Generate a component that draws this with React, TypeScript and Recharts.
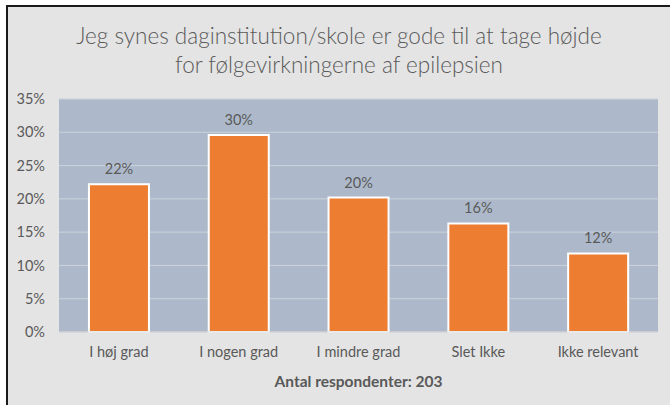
import { BarChart, Bar, XAxis, YAxis, CartesianGrid, LabelList } from "recharts";

// svarkategorier og andele (n = 203)
const categories = ["I høj grad", "I nogen grad", "I mindre grad", "Slet Ikke", "Ikke relevant"];
const shares = [0.222, 0.296, 0.202, 0.163, 0.118];
const yTicks = [0, 0.05, 0.1, 0.15, 0.2, 0.25, 0.3, 0.35];
// skillemarkeringer mellem kategorierne på x-aksen
const boundaryTicks = [0, 1, 2, 3, 4, 5];

const titleLines = [
  "Jeg synes daginstitution/skole er gode til at tage højde",
  "for følgevirkningerne af epilepsien",
];
const axisTitle = "Antal respondenter: 203";

const data = categories.map((c, i) => ({ kategori: c, andel: shares[i] }));

const pct = (v: any) => `${Math.round(Number(v) * 100)}%`;
const FONT = "Lato, 'Open Sans', sans-serif";
const TXT = "#595959";

export default function App() {
  return (
    <div style={{ position: "absolute", left: 0, top: 0, width: 670, height: 405, background: "#fff" }}>
      <div
        style={{
          position: "absolute",
          left: 6,
          top: 5,
          width: 662,
          height: 398,
          background: "#e4e4e4",
          borderTop: "2px solid #1a1a1a",
          borderLeft: "2px solid #1a1a1a",
          fontFamily: FONT,
        }}
      >
        <div
          style={{
            position: "absolute",
            left: 0,
            top: 14,
            width: 662,
            textAlign: "center",
            color: "#5a5a5a",
            fontSize: 22.5,
            fontWeight: 300,
            lineHeight: "29px",
          }}
        >
          {titleLines.map((t) => (
            <div key={t}>{t}</div>
          ))}
        </div>
        <BarChart
          width={662}
          height={398}
          data={data}
          margin={{ top: 92, right: 12, bottom: 13, left: 0 }}
          barCategoryGap="25%"
        >
          <CartesianGrid vertical={false} stroke="#ccd2db" fill="#adb9ca" />
          <XAxis
            xAxisId="skel"
            type="number"
            domain={[0, 5]}
            ticks={boundaryTicks}
            height={0}
            axisLine={false}
            tickSize={5}
            tickLine={{ stroke: "#d4d4d4" }}
            tickFormatter={() => ""}
          />
          <XAxis
            dataKey="kategori"
            height={60}
            tickLine={false}
            axisLine={{ stroke: "#d4d4d4" }}
            tickMargin={9}
            tick={{ fill: TXT, fontSize: 14.5, fontFamily: FONT }}
            label={{
              value: axisTitle,
              position: "insideBottom",
              offset: 5,
              fill: TXT,
              fontSize: 15.5,
              fontWeight: 700,
              fontFamily: FONT,
            }}
          />
          <YAxis
            width={51}
            domain={[0, 0.35]}
            ticks={yTicks}
            tickFormatter={pct}
            tickLine={false}
            axisLine={false}
            tickMargin={8}
            tick={{ fill: TXT, fontSize: 14.5, fontFamily: FONT }}
          />
          <Bar dataKey="andel" fill="#ed7d31" stroke="#ffffff" strokeWidth={2} isAnimationActive={false}>
            <LabelList
              dataKey="andel"
              position="top"
              offset={10}
              formatter={pct}
              fill={TXT}
              fontSize={14.5}
              fontFamily={FONT}
            />
          </Bar>
        </BarChart>
      </div>
    </div>
  );
}
